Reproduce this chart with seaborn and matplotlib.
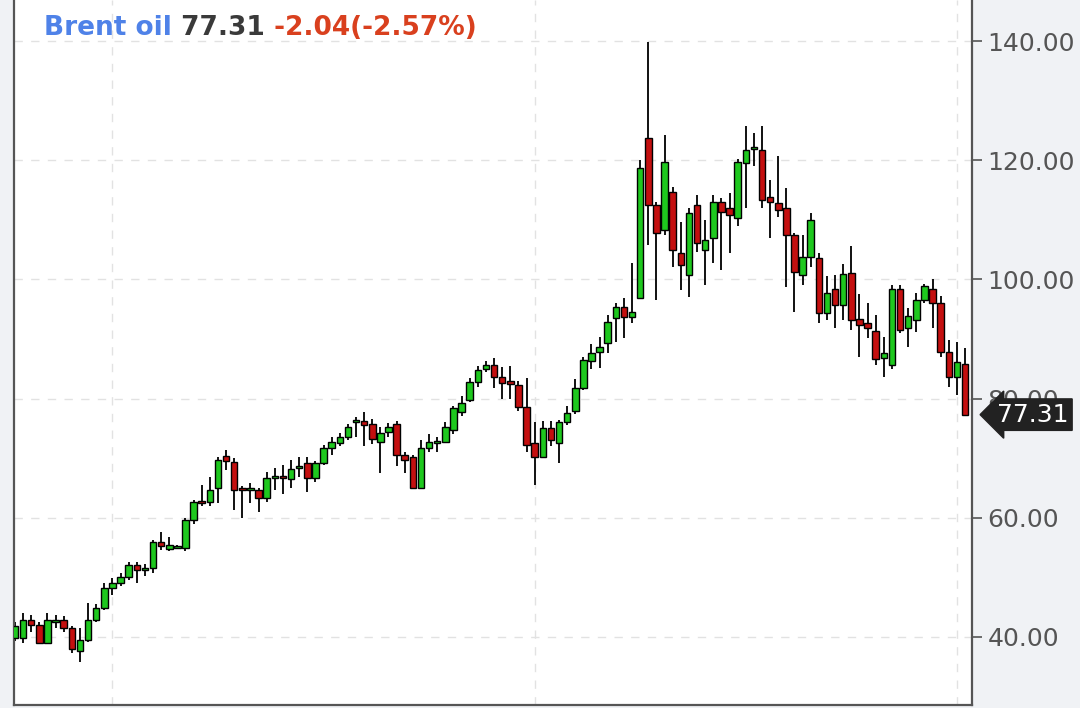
import numpy as np
import pandas as pd
import matplotlib
matplotlib.use("Agg")
import matplotlib.pyplot as plt
import matplotlib.transforms as mtransforms
from matplotlib.ticker import FormatStrFormatter
import seaborn as sns

# weekly Brent candles
opens = [39.8, 39.8, 42.8, 42.0, 39.0, 42.5, 42.8, 41.5, 37.6, 39.5,
         42.8, 44.9, 48.2, 49.0, 50.0, 52.0, 51.2, 51.5, 56.0, 54.7,
         55.0, 55.0, 59.6, 62.7, 62.7, 65.0, 70.3, 69.4, 64.7, 64.7,
         64.7, 63.3, 66.6, 66.8, 66.5, 68.4, 69.2, 66.7, 69.2, 71.7,
         72.5, 73.5, 76.0, 76.2, 75.8, 72.7, 74.4, 75.8, 70.5, 70.2,
         65.0, 71.7, 72.5, 72.7, 74.8, 77.7, 79.8, 82.8, 85.0, 85.6,
         83.6, 83.0, 82.3, 78.6, 72.5, 70.2, 75.0, 72.5, 76.0, 78.0,
         81.8, 86.3, 87.8, 89.3, 93.5, 95.4, 93.7, 96.9, 123.7, 112.5,
         108.3, 114.7, 104.4, 100.7, 112.5, 105.0, 107.0, 113.0, 112.0, 110.3,
         119.5, 121.8, 121.7, 113.8, 112.8, 112.0, 107.4, 100.7, 103.8, 103.6,
         94.4, 98.4, 95.7, 101.0, 93.4, 92.7, 91.3, 86.8, 85.6, 98.4,
         91.8, 93.2, 96.5, 98.4, 96.0, 87.8, 83.6, 85.8]
highs = [42.5, 44.0, 43.7, 42.5, 44.0, 43.7, 43.6, 41.8, 41.5, 45.7,
         45.5, 49.0, 49.9, 50.8, 52.6, 52.6, 52.3, 56.2, 57.6, 56.7,
         55.5, 60.0, 63.0, 65.5, 66.8, 70.2, 71.4, 70.0, 65.3, 65.8,
         65.0, 67.7, 68.4, 68.8, 69.7, 70.2, 70.2, 69.5, 72.2, 73.5,
         74.3, 75.8, 76.9, 77.7, 76.5, 75.2, 75.9, 76.3, 71.0, 70.5,
         73.0, 74.0, 73.5, 76.0, 78.7, 80.5, 83.5, 85.5, 86.3, 86.8,
         85.3, 85.5, 83.0, 83.4, 76.0, 76.3, 76.3, 76.4, 78.7, 83.3,
         87.0, 89.2, 90.3, 94.0, 96.0, 96.9, 102.8, 120.0, 139.8, 113.0,
         124.2, 115.5, 109.6, 112.0, 114.2, 110.0, 114.2, 113.7, 114.5, 120.2,
         125.7, 124.6, 125.7, 116.7, 120.7, 115.3, 107.8, 107.4, 111.1, 104.4,
         100.6, 100.7, 102.6, 105.6, 97.5, 96.0, 94.0, 90.3, 99.0, 99.0,
         95.2, 97.7, 99.3, 100.0, 97.2, 89.8, 89.5, 88.5]
lows = [39.3, 39.0, 40.8, 39.0, 39.0, 41.5, 40.8, 37.3, 35.8, 39.2,
        42.5, 44.5, 47.0, 48.5, 49.5, 49.0, 50.3, 50.8, 54.6, 54.5,
        54.8, 54.5, 59.0, 62.0, 62.0, 62.5, 68.0, 61.3, 60.0, 62.5,
        61.0, 62.7, 64.7, 64.0, 65.0, 66.8, 64.3, 66.0, 68.8, 70.5,
        72.0, 73.0, 73.6, 72.0, 72.3, 67.5, 73.5, 68.7, 67.5, 65.0,
        65.0, 71.0, 71.0, 72.5, 74.0, 77.0, 79.5, 82.0, 84.5, 81.8,
        80.0, 80.0, 78.0, 71.0, 65.5, 70.0, 72.0, 69.2, 75.5, 77.4,
        81.5, 85.0, 85.1, 87.7, 89.5, 90.2, 92.7, 96.9, 105.8, 96.5,
        107.5, 102.0, 98.2, 97.0, 104.6, 99.0, 102.8, 101.6, 104.4, 109.0,
        112.0, 119.0, 112.0, 107.0, 110.5, 98.7, 94.5, 99.0, 102.0, 92.7,
        93.2, 91.8, 93.2, 91.5, 87.0, 90.2, 85.6, 83.6, 85.0, 91.0,
        88.7, 91.2, 96.0, 91.8, 87.0, 82.0, 80.6, 77.31]
closes = [41.8, 42.8, 42.0, 39.0, 42.8, 42.8, 41.5, 38.0, 39.5, 42.8,
          44.9, 48.2, 49.0, 50.1, 52.0, 51.2, 51.5, 56.0, 55.3, 55.4,
          55.1, 59.6, 62.7, 62.5, 64.7, 69.7, 69.5, 64.7, 64.6, 64.8,
          63.3, 66.7, 66.7, 66.6, 68.2, 68.5, 66.7, 69.2, 71.7, 72.7,
          73.6, 75.2, 76.2, 75.6, 73.2, 74.2, 75.2, 70.5, 69.7, 65.0,
          71.7, 72.7, 72.7, 75.2, 78.4, 79.3, 82.8, 84.8, 85.6, 83.6,
          82.6, 82.5, 78.6, 72.2, 70.2, 75.0, 73.0, 76.0, 77.6, 81.8,
          86.5, 87.7, 88.7, 92.8, 95.4, 93.7, 94.5, 118.7, 112.5, 107.8,
          119.7, 105.0, 102.4, 111.1, 106.1, 106.6, 113.0, 111.3, 110.8, 119.7,
          121.7, 122.0, 113.3, 113.0, 111.6, 107.4, 101.2, 103.8, 110.0, 94.4,
          97.7, 95.7, 100.9, 93.2, 92.4, 91.8, 86.6, 87.6, 98.4, 91.5,
          93.9, 96.5, 98.9, 96.0, 87.8, 83.6, 86.1, 77.31]

y_ticks = [40, 60, 80, 100, 120, 140]
year_marks = [12, 64, 116]
instrument = "Brent oil"
last_price = "77.31"
change_text = "-2.04(-2.57%)"

sns.set_style("white")
plt.rcParams['font.family'] = ['DejaVu Sans']

df = pd.DataFrame({'open': opens, 'high': highs, 'low': lows, 'close': closes})
df['week'] = np.arange(len(df))
df['up'] = df['close'] >= df['open']
df['bottom'] = df[['open', 'close']].min(axis=1)
df['height'] = (df['close'] - df['open']).abs().clip(lower=0.35)

fig = plt.figure(figsize=(10.8, 7.08), dpi=100, facecolor='#f0f2f5')
ax = fig.add_axes([14 / 1080, 3 / 708, 958 / 1080, 705 / 708])
ax.set_facecolor('white')

# wicks then bodies
ax.vlines(df['week'], df['low'], df['high'], color='#111111', lw=1.4, zorder=2)
body_colors = np.where(df['up'], '#1ec81e', '#c40f0f')
ax.bar(df['week'], df['height'], bottom=df['bottom'], width=0.8,
       color=body_colors, edgecolor='black', linewidth=1.0, zorder=3)

ax.set_xlim(-0.12, 117.86)
ax.set_ylim(28.59, 146.88)

ax.set_axisbelow(True)
ax.grid(True, ls=(0, (6, 6)), color='#e2e2e2', lw=1)
ax.set_xticks(year_marks)
ax.tick_params(axis='x', length=0, labelbottom=False)

ax.yaxis.tick_right()
ax.set_yticks(y_ticks)
ax.yaxis.set_major_formatter(FormatStrFormatter('%.2f'))
ax.tick_params(axis='y', direction='out', length=7, width=1.2, color='#555555',
               labelcolor='#555555', labelsize=18, pad=4)

ax.spines['top'].set_visible(False)
for s in ['left', 'right', 'bottom']:
    ax.spines[s].set_color('#555555')
    ax.spines[s].set_linewidth(1.6)

# last price tag on the axis
trans = mtransforms.blended_transform_factory(ax.transAxes, ax.transData)
ax.text(1.026, float(last_price), last_price, transform=trans, ha='left', va='center',
        color='white', fontsize=18, clip_on=False, zorder=10,
        bbox=dict(boxstyle='larrow,pad=0.15', fc='#222222', ec='#222222'))

# header line
t1 = fig.text(44 / 1080, 1 - 28 / 708, instrument, color='#4f82e8', fontsize=19,
              fontweight='bold', va='center', ha='left')
t2 = ax.annotate(' ' + last_price, xy=(1, 0.5), xycoords=t1, va='center', ha='left',
                 color='#3a3a3a', fontsize=19, fontweight='bold', annotation_clip=False)
t3 = ax.annotate(' ' + change_text, xy=(1, 0.5), xycoords=t2, va='center', ha='left',
                 color='#d9401e', fontsize=19, fontweight='bold', annotation_clip=False)

fig.savefig('out.png', dpi=100, facecolor=fig.get_facecolor())
